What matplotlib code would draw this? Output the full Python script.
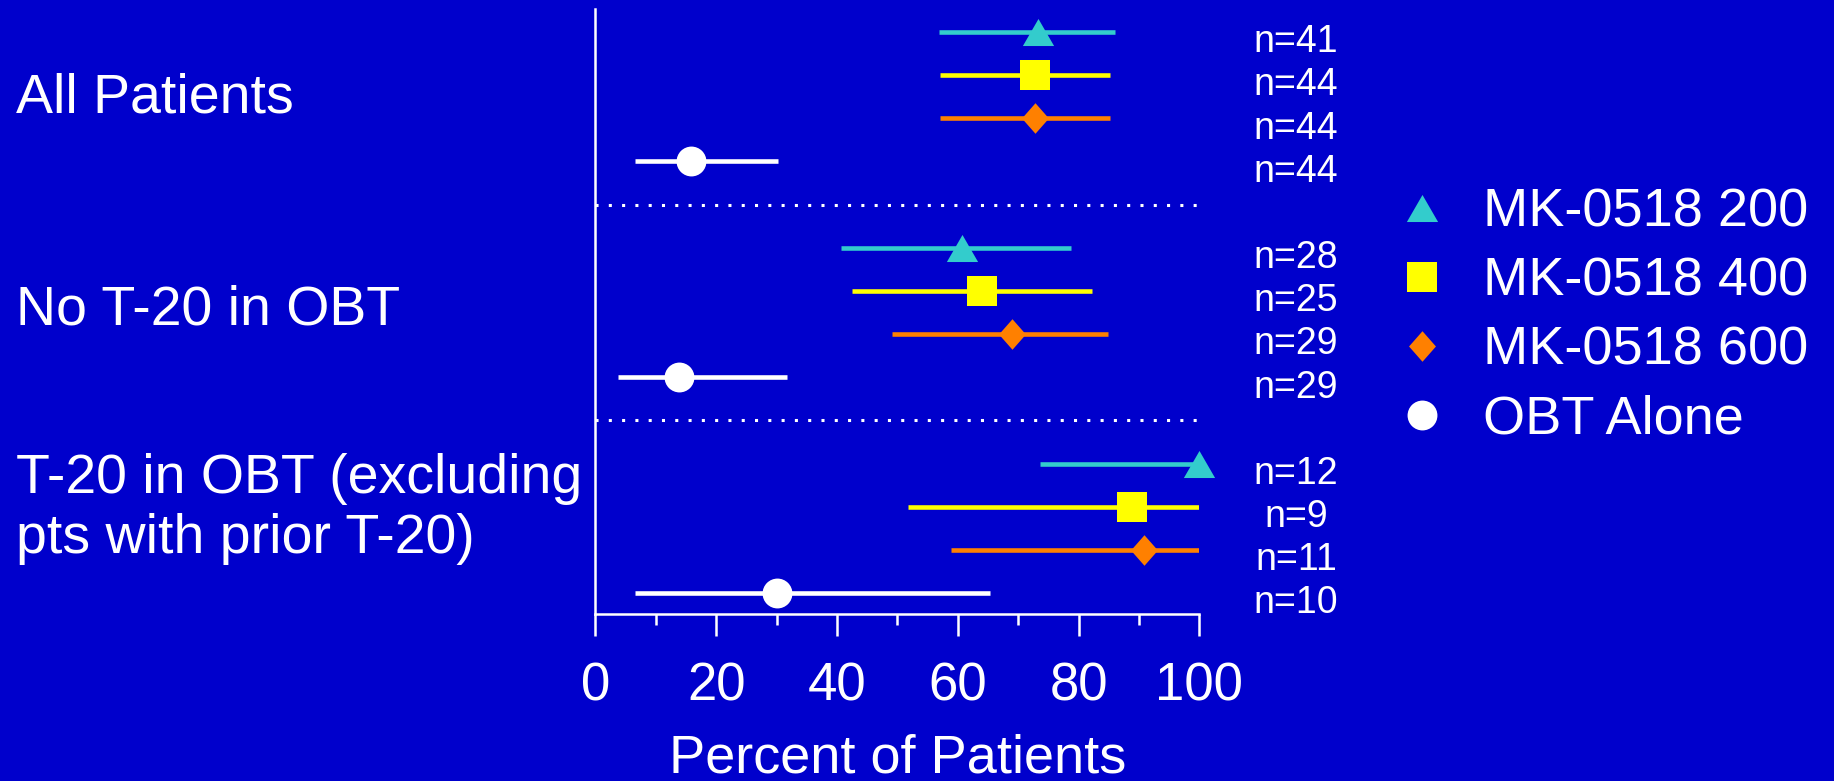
import matplotlib.pyplot as plt

plt.rcParams['font.family'] = ['Liberation Sans', 'DejaVu Sans']

# categories and treatments
groups = ['All Patients', 'No T-20 in OBT', 'T-20 in OBT (excluding\npts with prior T-20)']
treatments = ['MK-0518 200', 'MK-0518 400', 'MK-0518 600', 'OBT Alone']

# percent of patients, lower / upper CI limit, and n (one value per group)
mk200_pct = [73.2, 60.7, 100.0]
mk200_lo = [56.9, 40.6, 73.6]
mk200_hi = [86.0, 78.7, 100.0]
mk200_n = [41, 28, 12]

mk400_pct = [72.8, 64.0, 88.9]
mk400_lo = [57.1, 42.5, 51.7]
mk400_hi = [85.2, 82.2, 100.0]
mk400_n = [44, 25, 9]

mk600_pct = [72.8, 69.0, 90.9]
mk600_lo = [57.1, 49.1, 58.8]
mk600_hi = [85.2, 84.9, 100.0]
mk600_n = [44, 29, 11]

obt_pct = [15.9, 13.8, 30.0]
obt_lo = [6.5, 3.7, 6.6]
obt_hi = [30.2, 31.8, 65.3]
obt_n = [44, 29, 10]

x_ticks = [0, 20, 40, 60, 80, 100]
x_label = 'Percent of Patients'

BG = '#0000CC'
tri = [(-1, -0.866), (1, -0.866), (0, 0.866)]
dia = [(0, 1), (0.88, 0), (0, -1), (-0.88, 0)]
estilos = [
    ('#33CCCC', tri, 22.5),
    ('#FFFF00', 's', 22),
    ('#FF8000', dia, 22),
    ('white', 'o', 21.5),
]
series = [
    (mk200_pct, mk200_lo, mk200_hi, mk200_n),
    (mk400_pct, mk400_lo, mk400_hi, mk400_n),
    (mk600_pct, mk600_lo, mk600_hi, mk600_n),
    (obt_pct, obt_lo, obt_hi, obt_n),
]

fig = plt.figure(figsize=(18.34, 7.81), dpi=100, facecolor=BG)
ax = fig.add_axes([0.32465, 0.21344, 0.32933, 0.77452])
ax.set_facecolor(BG)

for k, (pct, lo, hi, n) in enumerate(series):
    color, marker, ms = estilos[k]
    ys = [g * 5 + k for g in range(len(groups))]
    ax.hlines(ys, lo, hi, color=color, linewidth=3.3, zorder=2)
    ax.plot(pct, ys, linestyle='none', marker=marker, markersize=ms,
            color=color, markeredgewidth=0, label=treatments[k], zorder=3, clip_on=False)
    for y, v in zip(ys, n):
        ax.text(116, y + 0.47, 'n=%d' % v, color='white', fontsize=27,
                ha='center', va='baseline')

# dotted separators between groups
for g in range(1, len(groups)):
    ax.plot([0, 100], [g * 5 - 1, g * 5 - 1], color='white', linewidth=2.2,
            linestyle=(0, (1, 3.35)), zorder=1, clip_on=False)

ax.set_xlim(0, 100)
ax.set_ylim(13.49, -0.52)
ax.set_xticks(x_ticks)
ax.set_xticks(range(10, 100, 20), minor=True)
ax.set_yticks([])
ax.tick_params(axis='x', which='major', length=16, width=1.8, colors='white',
               labelsize=38, pad=18)
ax.tick_params(axis='x', which='minor', length=8, width=1.8, colors='white')
for s in ['top', 'right']:
    ax.spines[s].set_visible(False)
for s in ['left', 'bottom']:
    ax.spines[s].set_color('white')
    ax.spines[s].set_linewidth(1.8)
ax.set_xlabel(x_label, fontsize=39, color='white', labelpad=16)

# group labels on the left
baselines = [[0.8562], [0.5851], [0.3684, 0.2923]]
for texto, ybs in zip(groups, baselines):
    for linea, yb in zip(texto.split('\n'), ybs):
        fig.text(0.0087, yb, linea, fontsize=40, color='white', va='baseline', ha='left')

leg = fig.legend(loc='center left', bbox_to_anchor=(0.7606, 0.595), frameon=False,
                 fontsize=39, handlelength=1.0, handletextpad=0.62, labelspacing=0.35,
                 borderpad=0, borderaxespad=0, numpoints=1)
for t in leg.get_texts():
    t.set_color('white')

fig.savefig('out.png', dpi=100, facecolor=BG)
